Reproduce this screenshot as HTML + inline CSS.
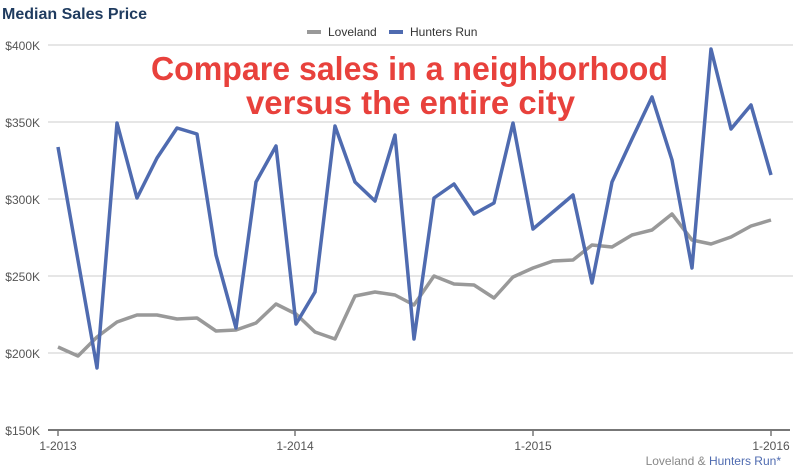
<!DOCTYPE html>
<html><head><style>
body{margin:0;background:#fff;width:793px;height:466px;overflow:hidden;font-family:"Liberation Sans",Arial,sans-serif}
</style></head><body>
<svg width="793" height="466" viewBox="0 0 793 466" xmlns="http://www.w3.org/2000/svg" font-family="Liberation Sans, Arial, sans-serif">
<text x="2" y="19" font-size="16" font-weight="bold" fill="#1f3b5f">Median Sales Price</text>
<rect x="307" y="30" width="14" height="4" fill="#999"/>
<text x="328" y="36" font-size="12" fill="#333">Loveland</text>
<rect x="389" y="30" width="14" height="4" fill="#4f6bb0"/>
<text x="410" y="36" font-size="12" fill="#333">Hunters Run</text>
<g stroke="#ccc" stroke-width="1">
<line x1="48" x2="793" y1="45" y2="45"/><line x1="48" x2="793" y1="122" y2="122"/>
<line x1="48" x2="793" y1="199" y2="199"/><line x1="48" x2="793" y1="276" y2="276"/>
<line x1="48" x2="793" y1="353" y2="353"/>
</g>
<line x1="48" x2="790" y1="430" y2="430" stroke="#777" stroke-width="2"/>
<g stroke="#777" stroke-width="1.5"><line x1="58" x2="58" y1="430" y2="436"/><line x1="295" x2="295" y1="430" y2="436"/><line x1="533" x2="533" y1="430" y2="436"/><line x1="771" x2="771" y1="430" y2="436"/></g>
<g font-size="12" fill="#555" text-anchor="end">
<text x="40" y="50">$400K</text><text x="40" y="127">$350K</text><text x="40" y="204">$300K</text><text x="40" y="281">$250K</text><text x="40" y="358">$200K</text><text x="40" y="435">$150K</text>
</g>
<g font-size="12" fill="#555" text-anchor="middle">
<text x="58" y="450">1-2013</text><text x="295" y="450">1-2014</text><text x="533" y="450">1-2015</text><text x="771" y="450">1-2016</text>
</g>
<text x="781" y="465" font-size="12" text-anchor="end" fill="#888">Loveland &amp; <tspan fill="#4f6bb0">Hunters Run*</tspan></text>
<polyline fill="none" stroke="#999" stroke-width="3.5" stroke-linejoin="round" points="58,347 78,356 97,337 117,322 137,315 157,315 177,319 197,318 216,331 236,330 256,323 276,304 296,314 315,332 335,339 355,296 375,292 395,295 414,305 434,276 454,284 474,285 494,298 513,277 533,268 553,261 573,260 592,245 612,247 632,235 652,230 672,214 692,240 711,244 731,237 751,226 771,220"/>
<polyline fill="none" stroke="#4f6bb0" stroke-width="3.5" stroke-linejoin="round" points="58,147 97,368 117,123 137,198 157,158 177,128 197,134 216,255 236,328 256,182 276,146 296,324 315,292 335,126 355,182 375,201 395,135 414,339 434,198 454,184 474,214 494,203 513,123 533,229 553,212 573,195 592,283 612,182 632,139 652,97 672,160 692,268 711,49 731,129 751,105 771,175"/>
<g font-size="33" font-weight="bold" fill="#e8413c">
<text x="151" y="80" textLength="517" lengthAdjust="spacingAndGlyphs">Compare sales in a neighborhood</text>
<text x="246" y="114" textLength="329" lengthAdjust="spacingAndGlyphs">versus the entire city</text>
</g>
</svg>
</body></html>
